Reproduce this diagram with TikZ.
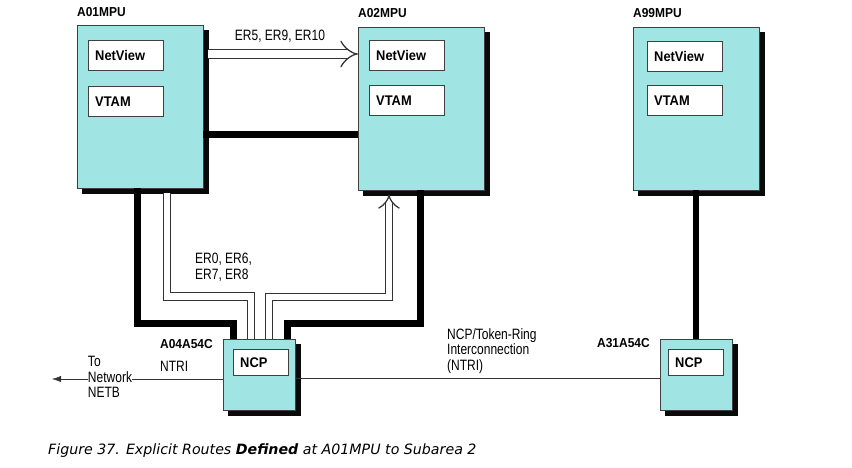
\documentclass[tikz,border=0pt]{standalone}
\usepackage{fontspec}
\setmainfont{Liberation Sans}
\newfontfamily\narrowsf[FakeStretch=0.8]{Liberation Sans}
\newfontfamily\boxsf[FakeStretch=0.92]{Liberation Sans}
\newfontfamily\capsf{DejaVu Sans}
\usepackage{xcolor}
\usepackage{tikz}
\usetikzlibrary{positioning}
\usetikzlibrary{arrows.meta}
\definecolor{boxcyan}{RGB}{160,228,228}
\definecolor{shadowgray}{RGB}{10,10,10}
\tikzset{heavy/.style = {line width=7pt}}
\tikzset{route/.style = {draw=black!80, line width=1.25pt, double=white, double distance=6.4pt}}

\begin{document}
\begin{tikzpicture}[x=1pt,y=-1pt,
  mpu node/.style={draw=black!75,fill=boxcyan,anchor=north west,minimum width=126pt,minimum height=163pt},
  ncp node/.style={mpu node,minimum width=72pt,minimum height=71pt},
  sub node/.style={draw=black!75,fill=white,anchor=north west,inner xsep=7pt,text width=61pt,minimum height=30pt,
    font=\boxsf\bfseries\fontsize{14}{14}\selectfont},
  name label/.style={anchor=base west,inner sep=0pt,font=\boxsf\bfseries\fontsize{13}{13}\selectfont},
  plain label/.style={inner sep=0pt,align=left,font=\narrowsf\fontsize{15}{15.5}\selectfont}]
    \path[use as bounding box,fill=white] (0,0) rectangle (852,467);

    % shadows
    \fill[shadowgray] (82,30) rectangle ++(127,164);
    \fill[shadowgray] (363,32) rectangle ++(127,164);
    \fill[shadowgray] (638,32) rectangle ++(127,164);
    \fill[shadowgray] (228,344) rectangle ++(73,72);
    \fill[shadowgray] (665,344) rectangle ++(73,72);

    % hosts
    \node[mpu node] (a01) at (77,25) {};
    \node[name label] (t01) at ([yshift=9pt]a01.north west) {A01MPU};
    \node[sub node] (nv01) at ([xshift=11pt,yshift=-15pt]a01.north west) {NetView};
    \node[sub node,below=16pt of nv01] (vt01) {VTAM};

    \node[mpu node] (a02) at (358,27) {};
    \node[name label] (t02) at ([yshift=10pt]a02.north west) {A02MPU};
    \node[sub node] (nv02) at ([xshift=11pt,yshift=-13pt]a02.north west) {NetView};
    \node[sub node,below=15pt of nv02] (vt02) {VTAM};

    \node[mpu node] (a99) at (633,27) {};
    \node[name label] (t99) at ([yshift=10pt]a99.north west) {A99MPU};
    \node[sub node] (nv99) at ([xshift=14pt,yshift=-14pt]a99.north west) {NetView};
    \node[sub node,below=14pt of nv99] (vt99) {VTAM};

    % controllers
    \node[ncp node] (a04) at (223,339) {};
    \node[sub node,text width=41pt,minimum height=26pt] (ncp04) at ([xshift=10pt,yshift=-10pt]a04.north west) {NCP};
    \node[name label] (t04) at (160,348) {A04A54C};
    \node[plain label,anchor=base west] (ntri) at (160,371) {NTRI};

    \node[ncp node] (a31) at (660,339) {};
    \node[sub node,text width=41pt,minimum height=26pt] (ncp31) at ([xshift=8pt,yshift=-10pt]a31.north west) {NCP};
    \node[name label] (t31) at (597,347) {A31A54C};

    % labels
    \node[plain label] (er1) at (280,36) {ER5, ER9, ER10};
    \node[plain label,anchor=north west] (er2) at (195,253) {ER0, ER6,\\ER7, ER8};
    \node[plain label,anchor=north west] (tr) at (447,328) {NCP/Token-Ring\\Interconnection\\(NTRI)};
    \node[plain label] (net) at (110,377) {To\\Network\\NETB};
    \coordinate (netend) at (52,379);

    % links
    \draw[route,double distance=8.4pt,-{Implies[scale=1.3]},shorten <=5pt] ([yshift=-29pt]a01.north east) -- ([yshift=-29pt]a01.north east -| a02.west);
    \draw[heavy] ([yshift=-109pt]a01.north east) -- ([yshift=-109pt]a01.north east -| a02.west);
    \draw[heavy] ([xshift=60pt]a01.south west) -- ++(0,135) -| ([xshift=10pt]a04.north west);
    \draw[heavy] ([xshift=-64pt]a02.south east) -- ++(0,133) -| ([xshift=-8pt]a04.north east);
    \draw[route,shorten <=5pt] ([xshift=90pt]a01.south west) -- ++(0,108) -| ([xshift=28pt]a04.north west);
    \draw[route,-{Implies[scale=1.3]},shorten >=4pt] ([xshift=46pt]a04.north west) -- ++(0,-42) -| ([xshift=31pt]a02.south west);
    \draw[line width=6pt] (a99.south) -- (a99.south |- a31.north);
    \draw[black!80] ([yshift=-3.5pt]a04.east) -- ([yshift=-3.5pt]a04.east -| a31.west);
    \draw[black!80] (net.east |- 0,379) -- (a04.west |- 0,379);
    \draw[black!80,-{Latex[length=9pt,width=6pt]}] (net.west |- 0,379) -- (netend);

    \node[anchor=base west,inner sep=0pt,font=\capsf\itshape\fontsize{14.2}{14}\selectfont] (cap) at (48,454)
      {Figure 37. Explicit Routes {\bfseries Defined} at A01MPU to Subarea 2};
\end{tikzpicture}
\end{document}
